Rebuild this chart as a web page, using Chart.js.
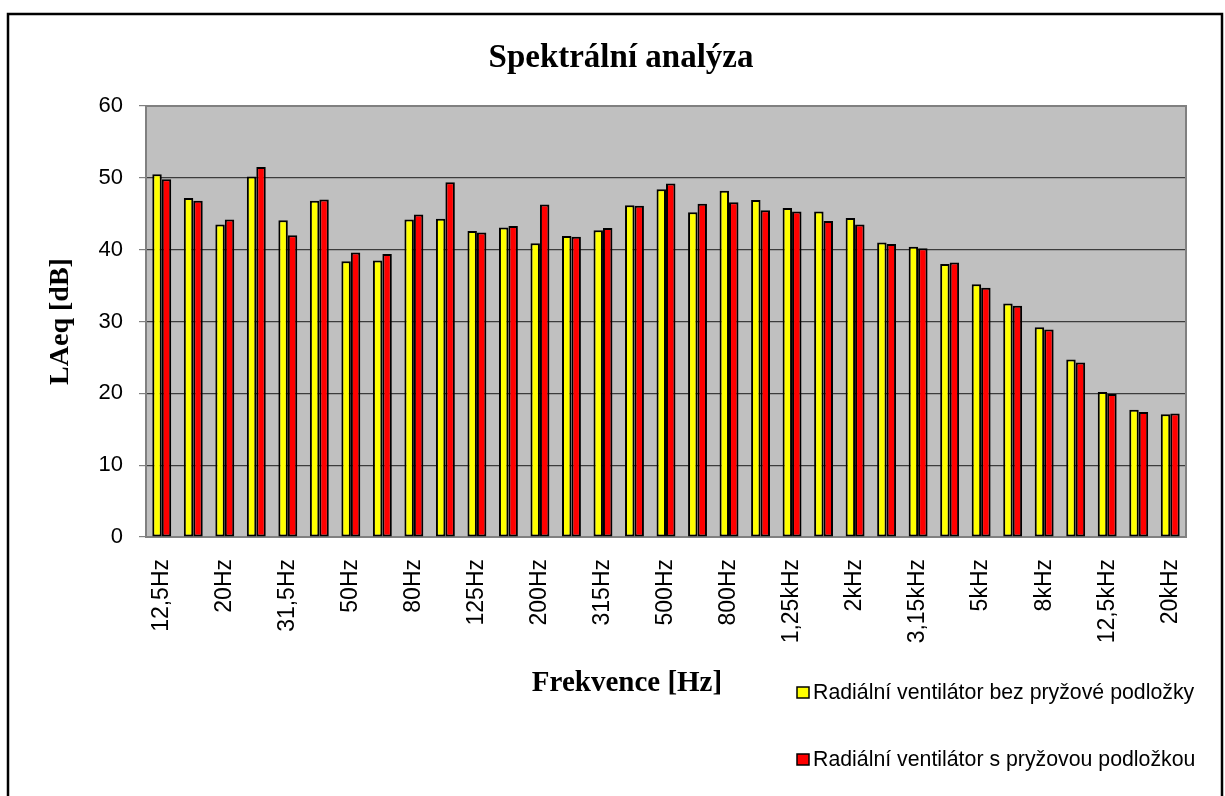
<!DOCTYPE html>
<html>
<head>
<meta charset="utf-8">
<title>Spektrální analýza</title>
<script src="https://cdn.jsdelivr.net/npm/chart.js@4.4.1/dist/chart.umd.min.js"></script>
<style>
  html, body { margin: 0; padding: 0; background: #fff; }
  #wrap { position: relative; width: 1225px; height: 796px; }
</style>
</head>
<body>
<div id="wrap"><canvas id="chart" width="1225" height="796"></canvas></div>
<script>
const chartTitle = 'Spektrální analýza';
const xTitle = 'Frekvence [Hz]';
const yTitle = 'LAeq [dB]';

const bands = ['12,5Hz', '16Hz', '20Hz', '25Hz', '31,5Hz', '40Hz', '50Hz', '63Hz', '80Hz', '100Hz',
  '125Hz', '160Hz', '200Hz', '250Hz', '315Hz', '400Hz', '500Hz', '630Hz', '800Hz', '1kHz',
  '1,25kHz', '1,6kHz', '2kHz', '2,5kHz', '3,15kHz', '4kHz', '5kHz', '6,3kHz', '8kHz', '10kHz',
  '12,5kHz', '16kHz', '20kHz'];

const seriesNames = ['Radiální ventilátor bez pryžové podložky', 'Radiální ventilátor s pryžovou podložkou'];

const withoutPad = [50.5, 47.2, 43.5, 50.2, 44.1, 46.8, 38.4, 38.5, 44.2, 44.3,
  42.6, 43.1, 40.9, 41.9, 42.7, 46.2, 48.4, 45.2, 48.2, 46.9,
  45.8, 45.3, 44.4, 41.0, 40.4, 38.0, 35.2, 32.5, 29.2, 24.7,
  20.2, 17.7, 17.1];

const withPad = [49.8, 46.8, 44.2, 51.5, 42.0, 47.0, 39.6, 39.4, 44.9, 49.4,
  42.4, 43.3, 46.3, 41.8, 43.0, 46.1, 49.2, 46.4, 46.6, 45.5,
  45.3, 44.0, 43.5, 40.8, 40.2, 38.2, 34.7, 32.2, 28.9, 24.3,
  19.9, 17.4, 17.2];

const yTicks = [0, 10, 20, 30, 40, 50, 60];
const colors = ['#FFFF00', '#FF0000'];

// frame, grey plot area, titles and legend
const decor = {
  id: 'decor',
  beforeDraw(chart) {
    const { ctx, chartArea: a } = chart;
    ctx.save();
    ctx.fillStyle = '#fff';
    ctx.fillRect(0, 0, chart.width, chart.height);
    ctx.fillStyle = '#C0C0C0';
    ctx.fillRect(a.left, a.top, a.right - a.left, a.bottom - a.top);
    ctx.restore();
  },
  afterDraw(chart) {
    const { ctx, chartArea: a } = chart;
    ctx.save();
    // plot border top/right
    ctx.strokeStyle = '#808080';
    ctx.lineWidth = 2;
    ctx.beginPath();
    ctx.moveTo(a.left, a.top);
    ctx.lineTo(a.right, a.top);
    ctx.lineTo(a.right, a.bottom);
    ctx.stroke();
    // outer frame
    ctx.strokeStyle = '#000';
    ctx.lineWidth = 2.5;
    ctx.strokeRect(8, 14, 1214, 800);
    // title
    ctx.fillStyle = '#000';
    ctx.textAlign = 'center';
    ctx.textBaseline = 'middle';
    ctx.font = 'bold 33px "Liberation Serif", "Times New Roman", serif';
    ctx.fillText(chartTitle, 621, 58);
    ctx.font = 'bold 29px "Liberation Serif", "Times New Roman", serif';
    ctx.fillText(xTitle, 627, 684);
    // legend
    ctx.font = '21.3px "Liberation Sans", Arial, sans-serif';
    ctx.textAlign = 'left';
    const ys = [692, 759];
    chart.data.datasets.forEach((ds, i) => {
      ctx.fillStyle = ds.backgroundColor;
      ctx.fillRect(797, ys[i] - 5, 12, 11);
      ctx.strokeStyle = '#000';
      ctx.lineWidth = 1.5;
      ctx.strokeRect(797, ys[i] - 5, 12, 11);
      ctx.fillStyle = '#000';
      ctx.fillText(ds.label, 813, ys[i] + 1);
    });
    ctx.restore();
  }
};

new Chart(document.getElementById('chart').getContext('2d'), {
  type: 'bar',
  data: {
    labels: bands,
    datasets: [
      { label: seriesNames[0], data: withoutPad, backgroundColor: colors[0] },
      { label: seriesNames[1], data: withPad, backgroundColor: colors[1] }
    ]
  },
  options: {
    responsive: false,
    animation: false,
    devicePixelRatio: 1,
    layout: { padding: { top: 106, right: 39, left: 0, bottom: 0 } },
    datasets: {
      bar: {
        categoryPercentage: 0.6,
        barPercentage: 1.0,
        borderColor: '#000',
        borderWidth: 2,
        borderSkipped: false
      }
    },
    plugins: {
      legend: { display: false },
      title: { display: false },
      tooltip: { enabled: false }
    },
    scales: {
      x: {
        afterFit(scale) { scale.height = 259; },
        grid: { display: false, drawTicks: false },
        border: { color: '#808080', width: 2 },
        ticks: {
          autoSkip: false,
          minRotation: 90,
          maxRotation: 90,
          padding: 22,
          color: '#000',
          font: { family: '"Liberation Sans", Arial, sans-serif', size: 23 },
          callback(value, index) { return index % 2 === 0 ? bands[index] : ''; }
        }
      },
      y: {
        min: 0,
        max: 60,
        afterFit(scale) { scale.width = 146; },
        afterBuildTicks(scale) { scale.ticks = yTicks.map(v => ({ value: v })); },
        border: { color: '#808080', width: 2 },
        grid: {
          color(c) { return c.tick && (c.tick.value === 0 || c.tick.value === 60) ? 'rgba(0,0,0,0)' : '#3c3c3c'; },
          lineWidth: 1.2,
          tickColor: '#808080',
          tickLength: 7,
          drawTicks: true
        },
        ticks: {
          padding: 16,
          color: '#000',
          font: { family: '"Liberation Sans", Arial, sans-serif', size: 22 }
        },
        title: {
          display: true,
          text: yTitle,
          color: '#000',
          padding: { top: 44, bottom: 0 },
          font: { family: '"Liberation Serif", "Times New Roman", serif', size: 28, weight: 'bold' }
        }
      }
    }
  },
  plugins: [decor]
});
</script>
</body>
</html>
